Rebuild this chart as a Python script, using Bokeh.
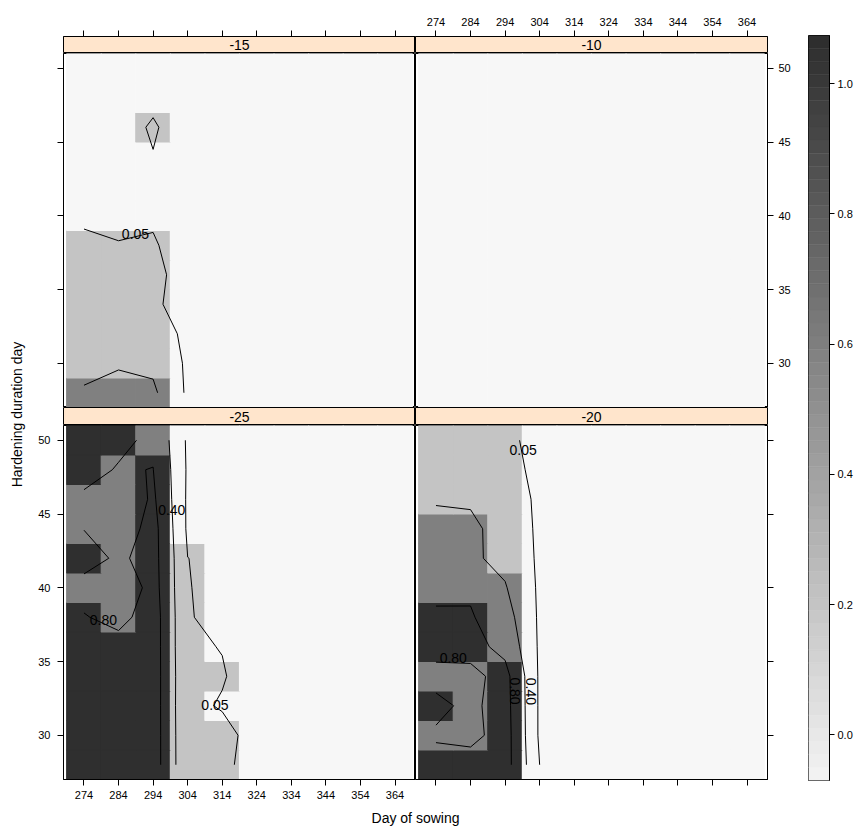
import numpy as np
from bokeh.plotting import figure
from bokeh.models import (Range1d, LinearAxis, FixedTicker, ColumnDataSource,
                          PrintfTickFormatter)
from bokeh.transform import linear_cmap
from bokeh.layouts import row, column
from bokeh.embed import file_html
from bokeh.resources import INLINE
from bokeh.core.properties import value

FONT = "Liberation Sans"

# ---------------- data ----------------
sowing_days = [274, 284, 294, 304, 314, 324, 334, 344, 354, 364]
hardening_days = [28, 30, 32, 34, 36, 38, 40, 42, 44, 46, 48, 50]

# probability grids: one row per hardening day, listed from 50 (top) down to 28 (bottom)
prob_m15 = [
    [0.000, 0.000, 0.000, 0.000, 0, 0, 0, 0, 0, 0],   # 50
    [0.000, 0.000, 0.000, 0.000, 0, 0, 0, 0, 0, 0],   # 48
    [0.000, -0.040, 0.074, -0.070, 0, 0, 0, 0, 0, 0], # 46
    [0.000, 0.000, 0.042, 0.000, 0, 0, 0, 0, 0, 0],   # 44
    [0.000, 0.000, 0.000, 0.000, 0, 0, 0, 0, 0, 0],   # 42
    [0.000, 0.000, 0.037, 0.000, 0, 0, 0, 0, 0, 0],   # 40
    [0.111, 0.059, 0.060, 0.000, 0, 0, 0, 0, 0, 0],   # 38
    [0.200, 0.180, 0.082, 0.000, 0, 0, 0, 0, 0, 0],   # 36
    [0.220, 0.200, 0.070, 0.000, 0, 0, 0, 0, 0, 0],   # 34
    [0.200, 0.220, 0.167, 0.000, 0, 0, 0, 0, 0, 0],   # 32
    [0.108, 0.356, 0.330, 0.000, 0, 0, 0, 0, 0, 0],   # 30
    [0.500, 0.550, 0.460, 0.000, 0, 0, 0, 0, 0, 0],   # 28
]
prob_m10 = [[0.0] * 10 for _ in range(12)]
prob_m25 = [
    [0.950, 0.865, 0.740, 0.000, 0.000, 0.000, 0, 0, 0, 0],   # 50
    [0.900, 0.778, 0.806, 0.010, 0.000, 0.000, 0, 0, 0, 0],   # 48
    [0.752, 0.450, 0.866, 0.000, 0.000, 0.000, 0, 0, 0, 0],   # 46
    [0.791, 0.571, 0.940, 0.000, 0.000, 0.000, 0, 0, 0, 0],   # 44
    [0.970, 0.733, 0.943, 0.052, 0.000, 0.000, 0, 0, 0, 0],   # 42
    [0.650, 0.445, 0.960, 0.057, 0.000, 0.000, 0, 0, 0, 0],   # 40
    [0.826, 0.673, 1.000, 0.062, 0.000, 0.000, 0, 0, 0, 0],   # 38
    [0.950, 0.955, 1.000, 0.0645, 0.0468, 0.000, 0, 0, 0, 0], # 36
    [0.960, 0.970, 1.000, 0.080, 0.0575, 0.000, 0, 0, 0, 0],  # 34
    [0.960, 0.970, 1.000, 0.075, 0.0417, 0.000, 0, 0, 0, 0],  # 32
    [0.960, 0.970, 1.000, 0.085, 0.083, 0.011, 0, 0, 0, 0],   # 30
    [0.960, 0.970, 1.000, 0.090, 0.077, 0.000, 0, 0, 0, 0],   # 28
]
prob_m20 = [
    [0.200, 0.150, 0.086, 0.000, 0, 0, 0, 0, 0, 0],   # 50
    [0.280, 0.250, 0.119, 0.000, 0, 0, 0, 0, 0, 0],   # 48
    [0.373, 0.356, 0.200, 0.000, 0, 0, 0, 0, 0, 0],   # 46
    [0.500, 0.481, 0.250, 0.000, 0, 0, 0, 0, 0, 0],   # 44
    [0.550, 0.453, 0.310, 0.000, 0, 0, 0, 0, 0, 0],   # 42
    [0.718, 0.740, 0.425, 0.000, 0, 0, 0, 0, 0, 0],   # 40
    [0.850, 0.837, 0.550, 0.000, 0, 0, 0, 0, 0, 0],   # 38
    [0.910, 0.930, 0.690, 0.000, 0, 0, 0, 0, 0, 0],   # 36
    [0.700, 0.700, 0.930, 0.000, 0, 0, 0, 0, 0, 0],   # 34
    [0.877, 0.726, 0.950, 0.000, 0, 0, 0, 0, 0, 0],   # 32
    [0.760, 0.687, 0.970, 0.000, 0, 0, 0, 0, 0, 0],   # 30
    [0.920, 0.970, 0.965, 0.049, 0, 0, 0, 0, 0, 0],   # 28
]

panel_titles = ["-15", "-10", "-25", "-20"]   # top-left, top-right, bottom-left, bottom-right
panel_grids = [prob_m15, prob_m10, prob_m25, prob_m20]

contour_levels = [0.05, 0.40, 0.80]
region_breaks = [0.05, 0.40, 0.80]
region_colors = ["#F7F7F7", "#C4C4C4", "#808080", "#2F2F2F"]

y_ticks = [30, 35, 40, 45, 50]
key_ticks = [0.0, 0.2, 0.4, 0.6, 0.8, 1.0]
key_low, key_high = -0.07, 1.074
key_steps = 57

# contour label placement (panel, text, sowing day, hardening day, angle in degrees)
label_panel = ["-15", "-25", "-25", "-25", "-20", "-20", "-20", "-20"]
label_text = ["0.05", "0.40", "0.80", "0.05", "0.05", "0.80", "0.80", "0.40"]
label_x = [288.9, 299.4, 279.6, 311.9, 299.2, 279.0, 296.9, 301.4]
label_y = [38.76, 45.3, 37.82, 32.08, 49.32, 35.23, 33.0, 32.97]
label_angle = [0, 0, 0, 0, 0, 0, -90, -90]

x_title = "Day of sowing"
y_title = "Hardening duration day"

# ---------------- layout sizes ----------------
LEFT_W, RIGHT_W, KEY_W, YLAB_W = 387, 385, 57, 28
LEFT_PAD, RIGHT_PAD = 35, 33
TOP_STRIP_H, STRIP_BORDER_TOP, STRIP_H = 53, 36, 18
TOP_PANEL_H, BOT_PANEL_H, BOT_PAD = 354, 379, 25
XLAB_H = 24
TICK_FONT = "11px"

cell_w = sowing_days[1] - sowing_days[0]
cell_h = hardening_days[1] - hardening_days[0]
x_pad = 0.93
xr = Range1d(sowing_days[0] - cell_w / 2 - x_pad, sowing_days[-1] + cell_w / 2 + x_pad)
yr = Range1d(hardening_days[0] - cell_h / 2, hardening_days[-1] + cell_h / 2)


def base_fig(w, h, left, right, top, bottom, x_range, y_range):
    p = figure(width=w, height=h, x_range=x_range, y_range=y_range,
               x_axis_type=None, y_axis_type=None,
               toolbar_location=None, output_backend="svg",
               min_border_left=left, min_border_right=right,
               min_border_top=top, min_border_bottom=bottom)
    p.outline_line_color = "black"
    p.outline_line_width = 1
    p.background_fill_color = "white"
    p.border_fill_color = "white"
    return p


def styled_axis(ticks, labels_on, tick_len=6, standoff=5, fmt=None):
    ax = LinearAxis(ticker=FixedTicker(ticks=list(ticks)))
    ax.major_tick_in = 0
    ax.major_tick_out = tick_len
    ax.minor_tick_line_color = None
    ax.axis_line_color = "black"
    ax.major_tick_line_color = "black"
    ax.major_label_text_font = FONT
    ax.major_label_text_font_size = TICK_FONT
    ax.major_label_text_color = "black"
    ax.major_label_standoff = standoff
    if fmt is not None:
        ax.formatter = fmt
    if not labels_on:
        ax.major_label_overrides = {t: "" for t in ticks}
    return ax


def make_strip(col, top, title):
    w = LEFT_W if col == 0 else RIGHT_W
    h = TOP_STRIP_H if top else STRIP_H
    p = base_fig(w, h, LEFT_PAD if col == 0 else 0, 0 if col == 0 else RIGHT_PAD,
                 STRIP_BORDER_TOP if top else 0, 0, xr, Range1d(0, 1))
    p.background_fill_color = "#FFE5CC"
    p.text(x=[(xr.start + xr.end) / 2], y=[0.5], text=[title],
           text_font=value(FONT), text_font_size="14px",
           text_align="center", text_baseline="middle", text_color="black")
    if top:
        p.add_layout(styled_axis(sowing_days, labels_on=(col == 1)), "above")
    return p


def make_panel(col, top, title, grid_rows):
    w = LEFT_W if col == 0 else RIGHT_W
    h = TOP_PANEL_H if top else BOT_PANEL_H
    p = base_fig(w, h, LEFT_PAD if col == 0 else 0, 0 if col == 0 else RIGHT_PAD,
                 0, 0 if top else BOT_PAD, xr, yr)
    z = np.array(grid_rows, dtype=float)[::-1]          # rows now follow hardening_days
    xs = np.tile(sowing_days, len(hardening_days))
    ys = np.repeat(hardening_days, len(sowing_days))
    zf = z.ravel()
    cols = [region_colors[i] for i in np.digitize(zf, region_breaks)]
    src = ColumnDataSource(dict(x=xs, y=ys, z=zf, color=cols))
    p.rect(x="x", y="y", width=cell_w, height=cell_h, fill_color="color",
           line_color="color", line_width=1.2, source=src)
    if z.max() >= min(contour_levels):
        p.contour(x=np.array(sowing_days, float), y=np.array(hardening_days, float),
                  z=z, levels=contour_levels, line_color="black", line_width=1)
    idx = [i for i, t in enumerate(label_panel) if t == title]
    if idx:
        p.text(x=[label_x[i] for i in idx], y=[label_y[i] for i in idx],
               text=[label_text[i] for i in idx],
               angle=[np.deg2rad(label_angle[i]) for i in idx],
               text_font=value(FONT), text_font_size="14px",
               text_align="center", text_baseline="middle", text_color="black")
    if col == 0:
        p.add_layout(styled_axis(y_ticks, labels_on=not top, standoff=7), "left")
    else:
        p.add_layout(styled_axis(y_ticks, labels_on=top, standoff=5), "right")
    if not top:
        p.add_layout(styled_axis(sowing_days, labels_on=(col == 0)), "below")
    return p


strip_tl = make_strip(0, True, panel_titles[0])
panel_tl = make_panel(0, True, panel_titles[0], panel_grids[0])
strip_bl = make_strip(0, False, panel_titles[2])
panel_bl = make_panel(0, False, panel_titles[2], panel_grids[2])
strip_tr = make_strip(1, True, panel_titles[1])
panel_tr = make_panel(1, True, panel_titles[1], panel_grids[1])
strip_br = make_strip(1, False, panel_titles[3])
panel_br = make_panel(1, False, panel_titles[3], panel_grids[3])

col_h = TOP_STRIP_H + TOP_PANEL_H + STRIP_H + BOT_PANEL_H

# colour key
edges = np.linspace(key_low, key_high, key_steps + 1)
mids = (edges[:-1] + edges[1:]) / 2
grays = ["#%02x%02x%02x" % (g, g, g) for g in np.linspace(242, 46, key_steps).round().astype(int)]
key_fig = base_fig(KEY_W, col_h, 8, 28, 35, col_h - 35 - 745, Range1d(0, 1), Range1d(key_low, key_high))
key_src = ColumnDataSource(dict(bottom=edges[:-1], top=edges[1:], mid=mids))
cmap = linear_cmap("mid", grays, key_low, key_high)
key_fig.quad(left=0, right=1, bottom="bottom", top="top", fill_color=cmap, line_color=cmap,
             line_width=0.5, source=key_src)
key_fig.add_layout(styled_axis(key_ticks, True, tick_len=5, standoff=3,
                               fmt=PrintfTickFormatter(format="%.1f")), "right")

# axis titles
total_w = LEFT_W + RIGHT_W + KEY_W
xlab_fig = base_fig(total_w, XLAB_H, LEFT_PAD, total_w - LEFT_PAD - 2 * (LEFT_W - LEFT_PAD), 0, 0,
                    Range1d(0, 1), Range1d(0, 1))
xlab_fig.outline_line_color = None
xlab_fig.text(x=[0.5], y=[0.45], text=[x_title], text_font=value(FONT), text_font_size="14px",
              text_align="center", text_baseline="alphabetic", text_color="black")

ylab_fig = base_fig(YLAB_W, col_h + XLAB_H, 0, 0, 0, 0, Range1d(0, 1), Range1d(0, 1))
ylab_fig.outline_line_color = None
ylab_fig.text(x=[0.6], y=[0.5], text=[y_title], angle=[np.pi / 2], text_font=value(FONT),
              text_font_size="14px", text_align="center", text_baseline="middle", text_color="black")

left_col = column(strip_tl, panel_tl, strip_bl, panel_bl)
right_col = column(strip_tr, panel_tr, strip_br, panel_br)
layout = row(ylab_fig, column(row(left_col, right_col, key_fig), xlab_fig))

open("out.html", "w").write(file_html(layout, INLINE))
